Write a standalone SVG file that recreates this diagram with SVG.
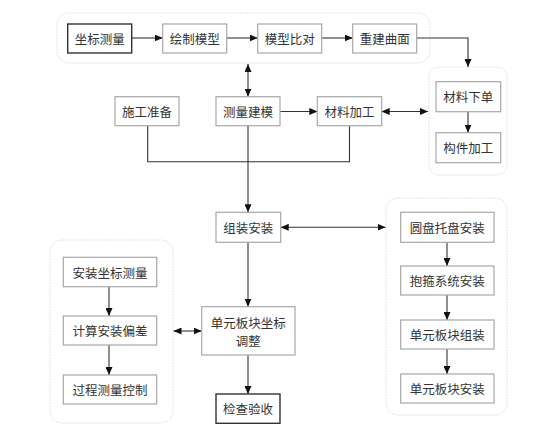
<svg xmlns="http://www.w3.org/2000/svg" width="554" height="432" viewBox="0 0 554 432">
<style>
.grp{fill:#fff;stroke:#e2e2e2;stroke-width:1;stroke-dasharray:2 1}
.box{fill:#fff;stroke:#a8a8a8;stroke-width:1.2}
.dark{fill:#fff;stroke:#333;stroke-width:1.4}
text{font-family:"Noto Sans CJK SC","Noto Sans CJK JP",sans-serif;font-size:12.5px;fill:#333;text-anchor:middle;dominant-baseline:central}
.c{fill:none;stroke:#333;stroke-width:1.1}
</style>
<defs>
<marker id="a" markerUnits="userSpaceOnUse" markerWidth="8" markerHeight="7" refX="8" refY="3.5" orient="auto-start-reverse"><path d="M0,0 L8,3.5 L0,7 z" fill="#111"/></marker>
</defs>
<rect width="554" height="432" fill="#fff"/>
<g id="groups">
<rect class="grp" x="57" y="13" width="373" height="50" rx="12"/>
<rect class="grp" x="429" y="67" width="78" height="108" rx="10"/>
<rect class="grp" x="386" y="198" width="121" height="217" rx="12"/>
<rect class="grp" x="50" y="240" width="123" height="183" rx="12"/>
</g>
<g id="connectors">
<line class="c" x1="131.7" y1="38" x2="162.7" y2="38" marker-end="url(#a)"/>
<line class="c" x1="226.7" y1="38" x2="257.7" y2="38" marker-end="url(#a)"/>
<line class="c" x1="321.7" y1="38" x2="352.7" y2="38" marker-end="url(#a)"/>
<polyline class="c" points="416.7,38 468,38 468,67" marker-end="url(#a)"/>
<line class="c" x1="248" y1="64" x2="248" y2="96.7" marker-start="url(#a)" marker-end="url(#a)"/>
<line class="c" x1="280" y1="111.5" x2="317.3" y2="111.5" marker-end="url(#a)"/>
<line class="c" x1="381.7" y1="111.5" x2="428" y2="111.5" marker-start="url(#a)" marker-end="url(#a)"/>
<polyline class="c" points="147.7,125.7 147.7,161.7 349.5,161.7 349.5,125.7"/>
<line class="c" x1="248" y1="125.7" x2="248" y2="212.3" marker-end="url(#a)"/>
<line class="c" x1="280.7" y1="227.3" x2="385.5" y2="227.3" marker-start="url(#a)" marker-end="url(#a)"/>
<line class="c" x1="248" y1="242.3" x2="248" y2="306.7" marker-end="url(#a)"/>
<line class="c" x1="248" y1="355" x2="248" y2="394" marker-end="url(#a)"/>
<line class="c" x1="173.5" y1="331" x2="201.7" y2="331" marker-start="url(#a)" marker-end="url(#a)"/>
<line class="c" x1="468" y1="111.7" x2="468" y2="132.7" marker-end="url(#a)"/>
<line class="c" x1="447" y1="242.3" x2="447" y2="266" marker-end="url(#a)"/>
<line class="c" x1="447" y1="295" x2="447" y2="320" marker-end="url(#a)"/>
<line class="c" x1="447" y1="349" x2="447" y2="374" marker-end="url(#a)"/>
<line class="c" x1="109" y1="286.7" x2="109" y2="316" marker-end="url(#a)"/>
<line class="c" x1="109" y1="345" x2="109" y2="375" marker-end="url(#a)"/>
</g>
<g id="n1"><rect class="dark" x="67.7" y="24" width="64" height="29"/><text x="99.7" y="38.5">坐标测量</text></g>
<g id="n2"><rect class="box" x="162.7" y="24" width="64" height="29"/><text x="194.7" y="38.5">绘制模型</text></g>
<g id="n3"><rect class="box" x="257.7" y="24" width="64" height="29"/><text x="289.7" y="38.5">模型比对</text></g>
<g id="n4"><rect class="box" x="352.7" y="24" width="64" height="29"/><text x="384.7" y="38.5">重建曲面</text></g>
<g id="n5"><rect class="box" x="436" y="81.7" width="64.7" height="30"/><text x="468.3" y="96.7">材料下单</text></g>
<g id="n6"><rect class="box" x="436" y="132.7" width="64.7" height="30"/><text x="468.3" y="147.7">构件加工</text></g>
<g id="n7"><rect class="box" x="115" y="96.7" width="64" height="29"/><text x="147" y="111.2">施工准备</text></g>
<g id="n8"><rect class="box" x="216" y="96.7" width="64" height="29"/><text x="248" y="111.2">测量建模</text></g>
<g id="n9"><rect class="box" x="317.3" y="96.7" width="64.4" height="29"/><text x="349.5" y="111.2">材料加工</text></g>
<g id="n10"><rect class="box" x="216" y="212.3" width="64.7" height="30"/><text x="248.3" y="227.3">组装安装</text></g>
<g id="n11"><rect class="box" x="400.7" y="212.3" width="93.3" height="30"/><text x="447.3" y="227.3">圆盘托盘安装</text></g>
<g id="n12"><rect class="box" x="400.7" y="266" width="93.3" height="29"/><text x="447.3" y="280.5">抱箍系统安装</text></g>
<g id="n13"><rect class="box" x="400.7" y="320" width="93.3" height="29"/><text x="447.3" y="334.5">单元板块组装</text></g>
<g id="n14"><rect class="box" x="400.7" y="374" width="93.3" height="29"/><text x="447.3" y="388.5">单元板块安装</text></g>
<g id="n15"><rect class="box" x="63.3" y="257.3" width="93.4" height="29.4"/><text x="110" y="272">安装坐标测量</text></g>
<g id="n16"><rect class="box" x="63.3" y="316" width="93.4" height="29"/><text x="110" y="330.5">计算安装偏差</text></g>
<g id="n17"><rect class="box" x="63.3" y="375" width="93.4" height="29"/><text x="110" y="389.5">过程测量控制</text></g>
<g id="n18"><rect class="box" x="201.7" y="306.7" width="93.3" height="48.3"/><text x="248.3" y="322">单元板块坐标</text><text x="248.3" y="340">调整</text></g>
<g id="n19"><rect class="dark" x="216" y="394" width="64" height="29.3"/><text x="248" y="408.7">检查验收</text></g>
</svg>
